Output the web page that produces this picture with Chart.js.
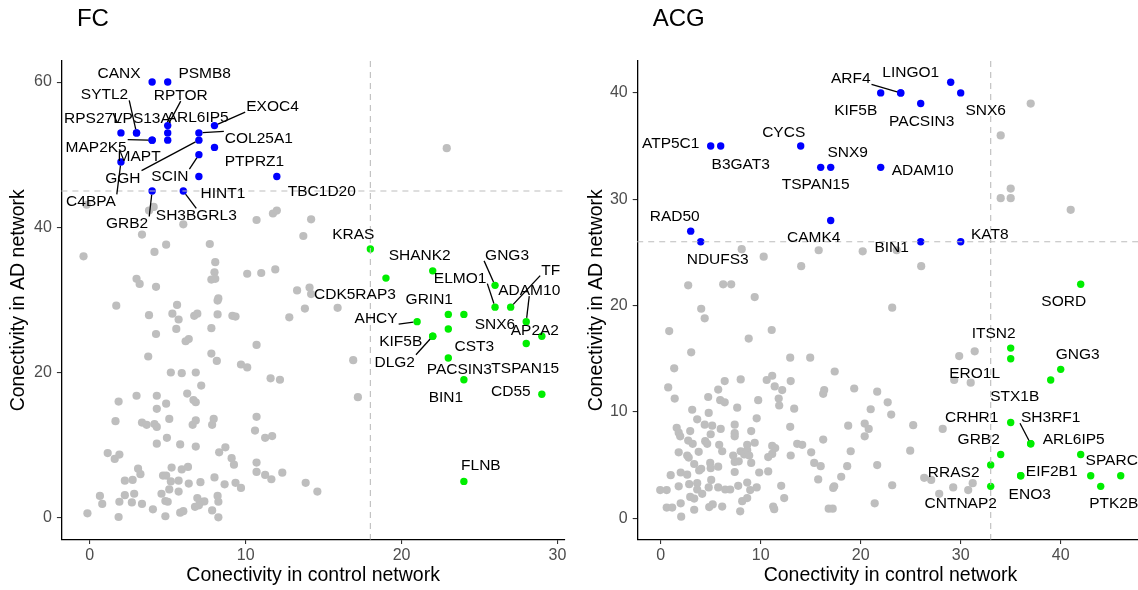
<!DOCTYPE html>
<html>
<head>
<meta charset="utf-8">
<script src="https://cdn.jsdelivr.net/npm/chart.js@4.4.0/dist/chart.umd.min.js"></script>
<style>
  html, body { margin: 0; padding: 0; background: #fff; overflow: hidden; }
  #wrap { position: relative; width: 1138px; height: 590px; overflow: hidden; }
  #fcChart { position: absolute; left: 0; top: 0; }
  #acgChart { position: absolute; left: 569px; top: 0; }
</style>
</head>
<body>
<div id="wrap">
  <canvas id="fcChart" width="569" height="590"></canvas>
  <canvas id="acgChart" width="580" height="590"></canvas>
</div>
<script>
// ---- FC panel data ----
const fcXTicks = [0, 10, 20, 30];
const fcYTicks = [0, 20, 40, 60];
const fcCutX = 18, fcCutY = 45;

const fcBlueNames = ['CANX','PSMB8','RPTOR','ARL6IP5','','SYTL2','VPS13A','RPS27L','MAP2K5','MAPT','EXOC4','COL25A1','GGH','PTPRZ1','SCIN','C4BPA','HINT1','TBC1D20','GRB2','SH3BGRL3'];
const fcBlueX = [4, 5, 5, 5, 5, 3, 3, 2, 4, 4, 8, 7, 7, 8, 7, 2, 7, 12, 4, 6];
const fcBlueY = [60, 60, 54, 53, 52, 53, 53, 53, 52, 52, 54, 53, 52, 51, 50, 49, 47, 47, 45, 45];

const fcGreenNames = ['KRAS','CDK5RAP3','SHANK2','GNG3','ELMO1','TF','ADAM10','AP2A2','TSPAN15','GRIN1','SNX6','AHCY','CST3','KIF5B','DLG2','PACSIN3','BIN1','CD55','FLNB'];
const fcGreenX = [18, 19, 22, 26, 26, 27, 28, 29, 28, 23, 24, 21, 23, 22, 22, 23, 24, 29, 24];
const fcGreenY = [37, 33, 34, 32, 29, 29, 27, 25, 24, 28, 28, 27, 26, 25, 25, 22, 19, 17, 5];

const fcGray = [
  [4.1,42.8],[3.8,42.3],[-0.2,43.1],[6.0,40.4],[3.35,39.0],[4.9,37.6],[4.15,36.6],[-0.4,36.0],[7.7,37.7],[8.05,35.2],
  [8.0,33.8],[7.8,32.8],[8.05,32.9],[3.0,32.9],[3.2,32.2],[4.25,31.8],[10.1,33.6],[11.0,33.7],[11.9,34.2],[10.7,41.0],
  [11.75,41.9],[12.0,42.3],[13.7,38.8],[14.2,41.1],[13.3,31.3],[14.1,31.7],[14.2,30.8],[8.25,30.2],[22.9,50.9],
  [1.7,29.2],[5.6,29.3],[8.2,29.9],[3.8,27.9],[5.3,28.1],[5.7,27.3],[6.7,27.8],[6.9,28.1],[8.2,28.0],[9.15,27.8],
  [9.35,27.7],[12.8,27.6],[13.8,28.8],[4.25,25.3],[5.55,26.0],[6.15,24.3],[6.35,24.6],[7.8,26.1],[10.7,23.8],[3.75,22.2],
  [7.8,22.6],[8.15,21.6],[9.7,21.1],[10.1,20.7],[5.2,20.0],[5.9,19.9],[6.8,20.0],[7.15,18.2],[11.6,19.2],[12.2,19.0],
  [1.85,16.0],[3.0,16.8],[4.3,16.8],[4.9,15.7],[4.3,15.0],[6.25,17.1],[6.65,16.2],[6.8,15.9],[1.65,13.3],[3.35,13.1],
  [3.65,12.8],[4.15,12.9],[4.3,12.5],[5.1,13.6],[6.6,12.8],[6.8,13.4],[7.95,13.6],[7.85,12.8],[10.7,13.9],[10.6,12.0],
  [11.25,11.0],[11.7,11.25],[4.3,10.2],[4.95,11.0],[5.8,10.1],[6.8,9.8],[1.15,8.9],[1.6,8.1],[1.9,8.7],[8.3,9.0],
  [8.7,9.7],[9.1,8.2],[9.25,7.3],[10.7,7.6],[10.7,6.3],[11.25,5.9],[11.65,5.3],[12.35,6.2],[13.85,4.8],[14.6,3.6],
  [3.1,6.75],[3.25,6.0],[2.75,5.2],[2.25,5.1],[4.7,5.8],[4.9,5.8],[5.25,6.9],[5.9,6.65],[6.3,7.0],[5.2,5.0],
  [5.7,5.1],[6.35,4.7],[7.1,4.9],[8.0,5.55],[8.65,4.6],[9.35,4.8],[9.7,4.1],[5.1,3.9],[5.7,3.6],[4.6,3.3],
  [0.65,3.0],[0.8,1.9],[2.25,3.1],[2.85,3.3],[1.9,2.2],[2.7,2.1],[3.35,1.9],[4.85,2.3],[5.0,2.2],[4.05,1.15],
  [6.9,2.7],[7.15,2.2],[7.35,2.25],[6.75,1.5],[7.0,1.7],[8.2,3.0],[8.25,2.2],[7.85,1.0],[8.25,0.05],[-0.15,0.6],
  [1.85,0.1],[4.85,0.2],[5.8,0.7],[6.0,0.9],[15.9,28.9],[16.9,21.7],[17.2,16.6]
];

// ---- ACG panel data ----
const acgXTicks = [0, 10, 20, 30, 40];
const acgYTicks = [0, 10, 20, 30, 40];
const acgCutX = 33, acgCutY = 26;

const acgBlueNames = ['KIF5B','ARF4','LINGO1','','SNX6','PACSIN3','ATP5C1','B3GAT3','CYCS','TSPAN15','SNX9','ADAM10','CAMK4','RAD50','NDUFS3','BIN1','KAT8'];
const acgBlueX = [22, 24, 24, 29, 30, 26, 5, 6, 14, 16, 17, 22, 17, 3, 4, 26, 30];
const acgBlueY = [40, 40, 40, 41, 40, 39, 35, 35, 35, 33, 33, 33, 28, 27, 26, 26, 26];

const acgGreenNames = ['SORD','ITSN2','ERO1L','GNG3','STX1B','CRHR1','SH3RF1','ARL6IP5','GRB2','SPARC','','RRAS2','EIF2B1','ENO3','CNTNAP2','PTK2B',''];
const acgGreenX = [42, 35, 35, 40, 39, 35, 37, 37, 34, 42, 43, 33, 36, 36, 33, 44, 46];
const acgGreenY = [22, 16, 15, 14, 13, 9, 7, 7, 6, 6, 4, 5, 4, 4, 3, 3, 4];

const acgGray = [
  [37.0,39.0],[34.0,36.0],[35.0,31.0],[34.0,30.1],[35.0,30.1],[41.0,29.0],[20.2,25.1],[23.6,25.2],[26.05,23.7],
  [8.1,25.3],[10.3,24.6],[14.05,23.7],[15.8,25.2],[2.75,21.9],[6.25,22.0],[7.05,22.0],[9.4,20.8],
  [4.05,19.7],[4.4,18.8],[0.85,17.6],[8.8,16.9],[11.1,17.7],[3.05,15.6],[1.35,14.1],[12.95,15.1],[14.95,15.1],[17.4,13.8],
  [0.75,12.3],[1.4,11.25],[6.4,12.9],[5.75,12.1],[8.0,13.05],[10.6,13.0],[11.15,13.4],[11.4,12.4],[12.15,12.05],[13.0,12.9],
  [16.35,12.05],[16.25,11.7],[19.35,12.2],[21.65,11.9],[4.75,11.4],[5.95,11.1],[6.4,10.9],[9.75,11.1],[11.8,11.25],[11.85,10.6],
  [3.15,10.2],[7.65,10.4],[13.35,10.3],[21.0,10.25],[3.65,9.3],[4.8,9.9],[9.6,9.4],[1.6,8.5],[1.8,8.05],[1.95,7.7],
  [2.95,8.2],[4.4,8.8],[5.15,8.7],[6.0,8.4],[7.4,8.8],[9.05,8.2],[12.95,8.6],[18.75,8.7],[20.4,8.9],[20.8,8.4],
  [20.4,7.7],[5.0,7.9],[7.4,8.0],[7.4,7.7],[2.75,7.3],[3.2,7.0],[4.45,7.25],[4.65,7.0],[5.85,6.9],[6.15,6.3],
  [8.65,6.9],[9.4,7.1],[11.15,6.8],[11.45,6.6],[13.65,7.0],[14.15,6.9],[16.25,7.4],[1.8,6.2],[2.65,5.9],[2.8,5.7],
  [3.8,6.25],[7.25,5.9],[8.0,6.3],[8.35,6.0],[8.65,6.4],[8.85,5.9],[11.15,6.05],[10.75,5.75],[13.0,5.9],[15.05,6.2],
  [19.0,6.3],[3.35,5.1],[4.95,5.2],[5.0,4.7],[5.75,4.85],[7.4,5.3],[7.8,5.35],[9.05,5.2],[15.35,5.2],[16.0,4.9],
  [18.65,4.9],[21.65,5.0],[1.0,4.05],[2.0,4.3],[2.65,4.1],[3.85,4.5],[4.05,4.65],[7.4,4.35],[9.85,4.3],[10.75,4.4],
  [15.75,3.65],[18.05,3.9],[-0.05,2.65],[0.6,2.65],[1.8,3.0],[2.85,3.2],[3.65,3.3],[4.15,2.3],[3.65,2.7],[5.05,3.6],
  [4.8,2.9],[5.75,2.9],[6.45,2.7],[6.95,2.7],[7.75,3.05],[8.65,3.35],[8.95,2.65],[9.6,2.9],[12.05,3.05],[17.25,2.85],
  [17.35,3.0],[2.95,2.0],[3.35,1.85],[8.15,1.6],[8.65,1.9],[12.35,1.9],[0.6,1.0],[1.15,1.0],[2.0,1.4],[3.35,0.8],
  [4.85,1.05],[5.2,1.3],[6.15,1.1],[7.95,0.65],[11.25,1.1],[11.35,0.85],[16.8,0.9],[17.2,0.9],[2.05,0.15],[21.4,1.4],
  [23.15,19.8],[29.85,15.25],[31.4,15.7],[29.35,13.0],[31.0,12.75],[22.7,10.9],[23.05,9.75],[25.25,8.75],[28.2,8.4],
  [24.95,6.35],[23.15,3.1],[26.35,3.8],[27.05,3.6],[27.85,2.3],[29.25,2.9],[30.75,2.65],[31.2,3.3]
];

// label placement (pixel offset of label centre from its point, 1 = draw a leader line)
const fcLabelPos = {
  CANX: [-33, -10], PSMB8: [37, -10], RPTOR: [13, -31, 1], ARL6IP5: [30, -16], SYTL2: [-32, -39, 1],
  VPS13A: [5, -15], RPS27L: [-28, -15], MAP2K5: [-56, 6, 1], MAPT: [-13, 15], EXOC4: [58, -20, 1],
  COL25A1: [60, 5, 1], GGH: [-76, 37, 1], PTPRZ1: [40, 13], SCIN: [-29, 21, 1], C4BPA: [-30, 39, 1],
  HINT1: [24, 16], TBC1D20: [45, 14], GRB2: [-25, 32, 1], SH3BGRL3: [13, 24, 1],
  KRAS: [-17, -16], CDK5RAP3: [-31, 15], SHANK2: [-13, -16], GNG3: [12, -31, 1], ELMO1: [-35, -30, 1],
  TF: [40, -38, 1], ADAM10: [3, -32, 1], AP2A2: [-7, -7], TSPAN15: [-1, 24], GRIN1: [-19, -16],
  SNX6: [31, 9], AHCY: [-41, -4, 1], CST3: [26, 17], KIF5B: [-32, 4], DLG2: [-38, 25, 1],
  PACSIN3: [11, 11], BIN1: [-18, 17], CD55: [-31, -4], FLNB: [17, -17]
};
const acgLabelPos = {
  KIF5B: [-25, 17], ARF4: [-50, -15, 1], LINGO1: [10, -21], SNX6: [25, 17], PACSIN3: [1, 17],
  ATP5C1: [-40, -4], B3GAT3: [20, 17], CYCS: [-17, -15], TSPAN15: [-5, 16], SNX9: [17, -16],
  ADAM10: [42, 2], CAMK4: [-17, 16], RAD50: [-16, -16], NDUFS3: [17, 17], BIN1: [-29, 5], KAT8: [29, -8],
  SORD: [-17, 16], ITSN2: [-17, -16], ERO1L: [-36, 14], GNG3: [17, -16], STX1B: [-36, 15],
  CRHR1: [-39, -6], SH3RF1: [20, -27, 1], ARL6IP5: [43, -5], GRB2: [-22, -16], SPARC: [31, 5],
  RRAS2: [-37, 6], EIF2B1: [31, -5], ENO3: [9, 18], CNTNAP2: [-30, 16], PTK2B: [13, 16]
};

const FONT = '"Liberation Sans", Arial, Helvetica, sans-serif';
const BLUE = '#0000ff', GREEN = '#00ee00', GREY = '#bebebe';

function zip(xs, ys) {
    return xs.map((v, i) => ({ x: v, y: ys[i] }));
}

// closest corner / edge-midpoint of the label box to the point
function segStart(cx, cy, w, h, px, py) {
    const l = cx - w / 2, r = cx + w / 2, t = cy - h / 2, b = cy + h / 2;
    const cands = [[l, t], [cx, t], [r, t], [l, cy], [r, cy], [l, b], [cx, b], [r, b]];
    let best = cands[0], bd = Infinity;
    cands.forEach(c => {
        const d = Math.hypot(c[0] - px, c[1] - py);
        if (d < bd) { bd = d; best = c; }
    });
    return best;
}

function buildChart(canvasId, cfg) {
    const groups = [
        { names: cfg.blueNames, xs: cfg.blueX, ys: cfg.blueY },
        { names: cfg.greenNames, xs: cfg.greenX, ys: cfg.greenY }
    ];

    const extras = {
        id: 'extras_' + canvasId,
        afterDatasetsDraw(chart) {
            const { ctx, chartArea: a, scales: { x, y } } = chart;
            const cx = x.getPixelForValue(cfg.cutX);
            const cy = y.getPixelForValue(cfg.cutY);
            ctx.save();
            ctx.strokeStyle = '#bdbdbd';
            ctx.lineWidth = 1.1;
            ctx.setLineDash([6, 5]);
            ctx.beginPath();
            ctx.moveTo(cx, a.top); ctx.lineTo(cx, a.bottom);
            ctx.moveTo(a.left, cy); ctx.lineTo(a.right, cy);
            ctx.stroke();
            ctx.restore();
        },
        afterDraw(chart) {
            const { ctx, chartArea: a, scales: { x, y } } = chart;
            ctx.save();
            ctx.font = '15.5px ' + FONT;
            ctx.textAlign = 'center';
            ctx.textBaseline = 'alphabetic';
            groups.forEach(g => {
                g.names.forEach((name, i) => {
                    const pos = cfg.labelPos[name];
                    if (!name || !pos) return;
                    const px = x.getPixelForValue(g.xs[i]);
                    const py = y.getPixelForValue(g.ys[i]);
                    const lx = px + pos[0], ly = py + pos[1];
                    if (pos[2]) {
                        const w = ctx.measureText(name).width + 2;
                        const s = segStart(lx, ly, w, 13, px, py);
                        const dx = px - s[0], dy = py - s[1];
                        const len = Math.hypot(dx, dy);
                        const k = Math.max(0, (len - 3.8) / len);
                        ctx.strokeStyle = '#000';
                        ctx.lineWidth = 1.3;
                        ctx.beginPath();
                        ctx.moveTo(s[0], s[1]);
                        ctx.lineTo(s[0] + dx * k, s[1] + dy * k);
                        ctx.stroke();
                    }
                    ctx.fillStyle = '#000';
                    ctx.fillText(name, lx, ly + 5.5);
                });
            });
            // panel title
            ctx.font = '24px ' + FONT;
            ctx.textAlign = 'left';
            ctx.fillText(cfg.title, a.left + 15.5, 26.3);
            ctx.restore();
        }
    };

    const axisFont = { family: FONT, size: 16 };
    const titleFont = { family: FONT, size: 19.5 };

    return new Chart(document.getElementById(canvasId), {
        type: 'scatter',
        data: {
            datasets: [
                { data: zip(cfg.blueX, cfg.blueY), pointBackgroundColor: BLUE, pointRadius: 3.7, pointBorderWidth: 0 },
                { data: zip(cfg.greenX, cfg.greenY), pointBackgroundColor: GREEN, pointRadius: 3.7, pointBorderWidth: 0 },
                { data: cfg.gray.map(p => ({ x: p[0], y: p[1] })), pointBackgroundColor: GREY, pointRadius: 4.1, pointBorderWidth: 0 }
            ]
        },
        options: {
            responsive: false,
            animation: false,
            devicePixelRatio: 1,
            events: [],
            layout: { padding: { top: 61, left: 0, right: cfg.padRight, bottom: 0 } },
            plugins: { legend: { display: false }, tooltip: { enabled: false } },
            scales: {
                x: {
                    type: 'linear',
                    min: cfg.xMin, max: cfg.xMax,
                    afterBuildTicks: s => { s.ticks = cfg.xTicks.map(v => ({ value: v })); },
                    afterFit: s => { s.height = 50.5; s.paddingLeft = 0; s.paddingRight = 0; },
                    border: { display: true, color: '#000', width: 1.3 },
                    grid: { display: true, drawOnChartArea: false, drawTicks: true, tickLength: 4.5, color: '#333', lineWidth: 1.1 },
                    ticks: { color: '#4d4d4d', font: axisFont, padding: 2, maxRotation: 0, autoSkip: false },
                    title: { display: true, text: 'Conectivity in control network', color: '#000', font: titleFont, padding: { top: 0, bottom: 2.5 } }
                },
                y: {
                    type: 'linear',
                    min: cfg.yMin, max: cfg.yMax,
                    afterBuildTicks: s => { s.ticks = cfg.yTicks.map(v => ({ value: v })); },
                    afterFit: s => { s.width = cfg.yAxisW; s.paddingTop = 0; s.paddingBottom = 0; },
                    border: { display: true, color: '#000', width: 1.3 },
                    grid: { display: true, drawOnChartArea: false, drawTicks: true, tickLength: 4.5, color: '#333', lineWidth: 1.1 },
                    ticks: { color: '#4d4d4d', font: axisFont, padding: 5, autoSkip: false },
                    title: { display: true, text: 'Conectivity in AD network', color: '#000', font: titleFont, padding: { top: cfg.yTitlePad, bottom: 0 } }
                }
            }
        },
        plugins: [extras]
    });
}

buildChart('fcChart', {
    title: 'FC',
    gray: fcGray,
    blueNames: fcBlueNames, blueX: fcBlueX, blueY: fcBlueY,
    greenNames: fcGreenNames, greenX: fcGreenX, greenY: fcGreenY,
    labelPos: fcLabelPos,
    cutX: fcCutX, cutY: fcCutY,
    xTicks: fcXTicks, yTicks: fcYTicks,
    xMin: -1.82, xMax: 30.48, yMin: -3.0, yMax: 62.9,
    yAxisW: 61.4, padRight: 1.5, yTitlePad: 7.3
});

buildChart('acgChart', {
    title: 'ACG',
    gray: acgGray,
    blueNames: acgBlueNames, blueX: acgBlueX, blueY: acgBlueY,
    greenNames: acgGreenNames, greenX: acgGreenX, greenY: acgGreenY,
    labelPos: acgLabelPos,
    cutX: acgCutX, cutY: acgCutY,
    xTicks: acgXTicks, yTicks: acgYTicks,
    xMin: -2.35, xMax: 48.3, yMin: -2.0, yMax: 43.0,
    yAxisW: 68.2, padRight: 5.3, yTitlePad: 16.3
});
</script>
</body>
</html>
